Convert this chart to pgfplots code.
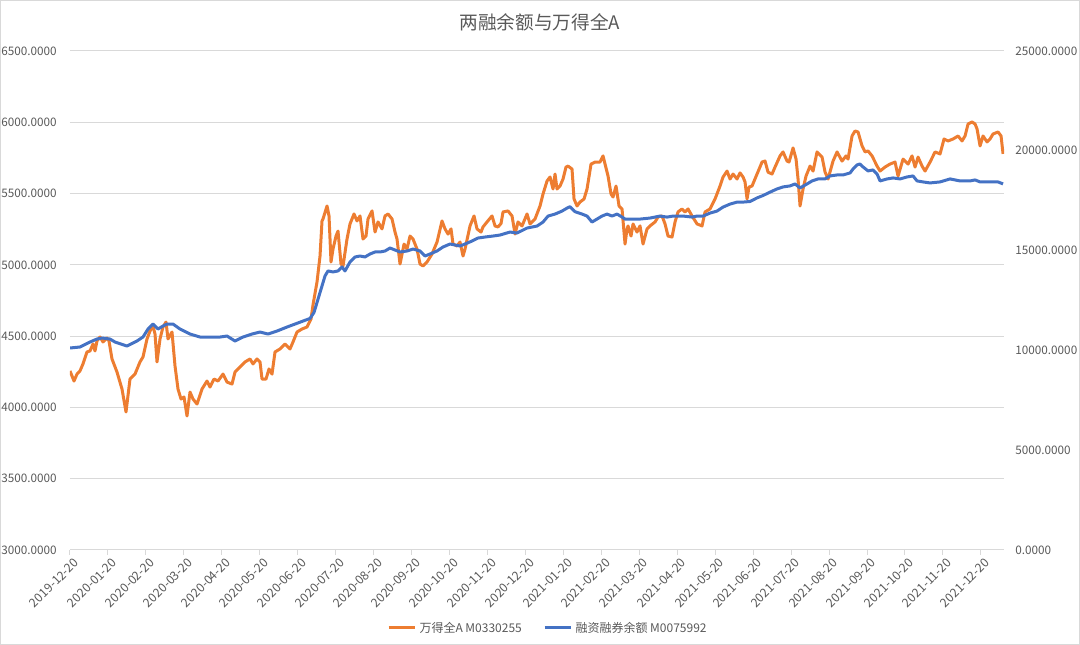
\documentclass[border=0pt]{standalone}
\usepackage{fontspec}
\setmainfont{Noto Sans CJK SC}
\usepackage{pgfplots}
\usepackage{pgfplotstable}
\pgfplotsset{compat=1.18}
\definecolor{orng}{HTML}{ED7D31}
\definecolor{blu}{HTML}{4472C4}
\definecolor{gridc}{HTML}{D9D9D9}
\definecolor{txt}{HTML}{595959}

% x = horizontal position (px of original chart), v = value
\pgfplotstableread{
x v
70 4256
74 4185
77 4234
80 4256
83 4305
87 4389
90 4396
93 4445
95 4396
97 4466
100 4494
103 4459
107 4487
109 4466
112 4340
117 4248
122 4129
126 3968
130 4199
135 4234
140 4319
143 4354
147 4480
150 4536
153 4571
155 4515
157 4319
160 4480
163 4564
166 4599
168 4480
172 4529
175 4291
178 4129
181 4059
184 4073
187 3940
190 4108
193 4059
197 4024
202 4129
207 4185
210 4143
214 4199
218 4185
223 4234
227 4178
232 4164
235 4248
240 4284
245 4319
250 4340
253 4305
257 4340
260 4319
262 4199
266 4199
269 4270
272 4234
275 4389
280 4410
285 4445
290 4410
293 4459
297 4529
302 4550
307 4564
311 4620
313 4720
317 4880
320 5062
322 5308
323 5322
327 5413
329 5343
331 5020
333 5111
336 5202
338 5237
341 5006
343 4992
347 5181
350 5287
354 5357
357 5308
360 5343
363 5181
366 5202
368 5322
372 5378
375 5230
378 5301
382 5252
385 5343
388 5357
392 5322
395 5230
397 5181
400 5006
404 5146
407 5111
410 5202
413 5181
417 5111
420 5006
423 4992
427 5020
432 5076
437 5160
442 5308
445 5252
448 5216
451 5252
453 5146
457 5132
460 5160
463 5062
465 5111
470 5273
474 5343
477 5252
481 5230
483 5266
487 5301
492 5343
495 5273
498 5266
501 5290
503 5371
508 5378
512 5343
515 5216
518 5301
522 5273
527 5357
530 5287
535 5322
540 5413
543 5497
547 5588
550 5616
553 5532
555 5637
557 5532
560 5553
563 5602
566 5686
568 5693
572 5672
574 5462
577 5413
580 5441
584 5462
587 5532
591 5707
595 5721
600 5721
603 5764
605 5707
608 5623
611 5497
613 5476
616 5553
619 5413
622 5392
625 5146
627 5252
628 5273
631 5202
633 5287
637 5230
640 5273
643 5146
647 5252
650 5273
655 5301
658 5336
662 5343
665 5287
668 5202
672 5195
675 5301
678 5371
682 5392
685 5371
688 5392
692 5343
697 5287
702 5273
705 5371
710 5392
715 5462
720 5553
723 5616
727 5658
730 5602
733 5637
737 5602
740 5645
743 5616
745 5581
747 5462
749 5546
752 5553
757 5637
762 5721
765 5728
768 5650
772 5637
775 5686
780 5764
783 5792
787 5728
789 5721
793 5820
796 5742
798 5602
800 5413
803 5532
806 5623
810 5693
813 5658
817 5792
822 5756
825 5651
828 5602
833 5728
837 5792
842 5728
846 5764
848 5742
852 5904
855 5939
858 5932
862 5834
865 5792
868 5799
872 5764
877 5693
880 5658
885 5686
890 5707
895 5721
898 5623
903 5742
908 5707
912 5764
915 5686
918 5756
922 5693
925 5658
930 5721
935 5792
940 5778
944 5883
948 5869
953 5883
958 5904
962 5869
965 5904
968 5988
972 6002
975 5988
977 5953
980 5834
983 5904
987 5862
990 5883
993 5918
998 5932
1001 5904
1003 5778
}\orangedata

\pgfplotstableread{
x v
70 10120
80 10170
90 10420
97 10570
102 10620
110 10570
115 10420
127 10220
137 10470
143 10670
148 11070
153 11320
158 11070
163 11220
167 11320
173 11320
180 11070
190 10820
200 10670
210 10670
220 10670
227 10720
235 10470
243 10670
252 10820
260 10920
268 10820
277 10970
287 11170
295 11320
303 11470
310 11600
314 11900
317 12400
320 12900
322 13230
325 13730
328 13980
333 13930
338 13980
342 14180
345 13980
350 14430
355 14680
360 14730
365 14680
370 14830
375 14930
380 14930
385 14980
390 15130
395 15030
400 14930
407 14980
413 15080
420 14980
425 14730
430 14830
437 14980
443 15180
450 15330
455 15280
460 15230
465 15330
472 15480
478 15630
485 15680
493 15730
500 15780
510 15930
517 15880
527 16130
537 16230
543 16430
548 16730
555 16830
562 16980
567 17130
570 17200
575 16950
582 16830
587 16730
592 16430
597 16580
602 16730
607 16830
612 16730
617 16830
622 16680
625 16580
632 16580
640 16580
650 16630
660 16730
667 16680
673 16730
683 16730
692 16680
697 16730
703 16730
710 16880
717 16980
723 17180
730 17330
737 17430
743 17430
750 17460
757 17640
763 17760
770 17930
777 18090
783 18190
790 18240
795 18340
800 18140
807 18340
812 18490
818 18590
825 18590
830 18740
837 18790
843 18790
850 18890
853 19090
857 19290
860 19340
863 19190
868 18990
873 19040
877 18840
880 18490
887 18590
893 18640
900 18590
907 18690
913 18740
917 18490
923 18440
930 18390
940 18440
950 18590
960 18490
970 18490
975 18540
980 18440
990 18440
998 18440
1003 18340
}\bluedata

\pgfplotsset{
  common/.style={
    scale only axis, width=700.5pt, height=374.25pt,
    xmin=0, xmax=24.61,
    axis line style={draw=none},
    tick label style={font=\fontsize{8.8}{9.5}\selectfont, text=txt},
    scaled y ticks=false,
    /pgf/number format/assume math mode=true,
    yticklabel={\pgfmathprintnumber[fixed,fixed zerofill,precision=4,1000 sep={}]{\tick}},
    ytick style={draw=none},
  }
}

\begin{document}
\begin{tikzpicture}
\begin{axis}[common,
  ymin=3000, ymax=6500,
  ytick={3000,3500,...,6500},
  xtick={0,...,24},
  xticklabels={2019-12-20,2020-01-20,2020-02-20,2020-03-20,2020-04-20,2020-05-20,2020-06-20,2020-07-20,2020-08-20,2020-09-20,2020-10-20,2020-11-20,2020-12-20,2021-01-20,2021-02-20,2021-03-20,2021-04-20,2021-05-20,2021-06-20,2021-07-20,2021-08-20,2021-09-20,2021-10-20,2021-11-20,2021-12-20},
  ymajorgrids, grid style={gridc, line width=0.75pt},
  tick align=outside, xtick pos=bottom, ytick pos=left,
  major tick length=3.5pt,
  xtick style={gridc, line width=0.75pt},
  xticklabel style={rotate=45, anchor=east, inner sep=1pt, xshift=1.5pt, yshift=-6.5pt, font=\fontsize{9.2}{10}\selectfont},
  yticklabel style={xshift=-3pt},
  title={两融余额与万得全A},
  title style={font=\fontsize{14}{16}\selectfont, text=txt, at={(0.503,1)}, anchor=center, yshift=15.5pt},
]
\addplot[orng, line width=2.25pt, line join=round] table[x expr=(\thisrow{x}-70)/37.95, y=v] \orangedata;
\end{axis}
\begin{axis}[common,
  ymin=0, ymax=25000,
  ytick={0,5000,...,25000},
  hide x axis,
  ytick pos=right, yticklabel pos=right,
  yticklabel style={xshift=5pt},
  legend style={at={(0.512,-0.1563)}, anchor=center, draw=none, fill=none, legend columns=2,
    font=\fontsize{9}{10}\selectfont, text=txt,
    /tikz/every even column/.append style={column sep=14pt}},
  legend image code/.code={\draw[#1] (0pt,0pt) -- (20pt,0pt);},
]
\addlegendimage{orng, line width=2.25pt}
\addlegendentry{万得全A M0330255}
\addplot[blu, line width=2.25pt, line join=round] table[x expr=(\thisrow{x}-70)/37.95, y=v] \bluedata;
\addlegendentry{融资融券余额 M0075992}
\end{axis}
\draw[gridc, line width=0.75pt] (-52.125pt,-70.875pt) rectangle (757.125pt,412.125pt);
\pgfresetboundingbox
\path (-52.5pt,-71.25pt) rectangle (757.5pt,412.5pt);
\end{tikzpicture}
\end{document}
